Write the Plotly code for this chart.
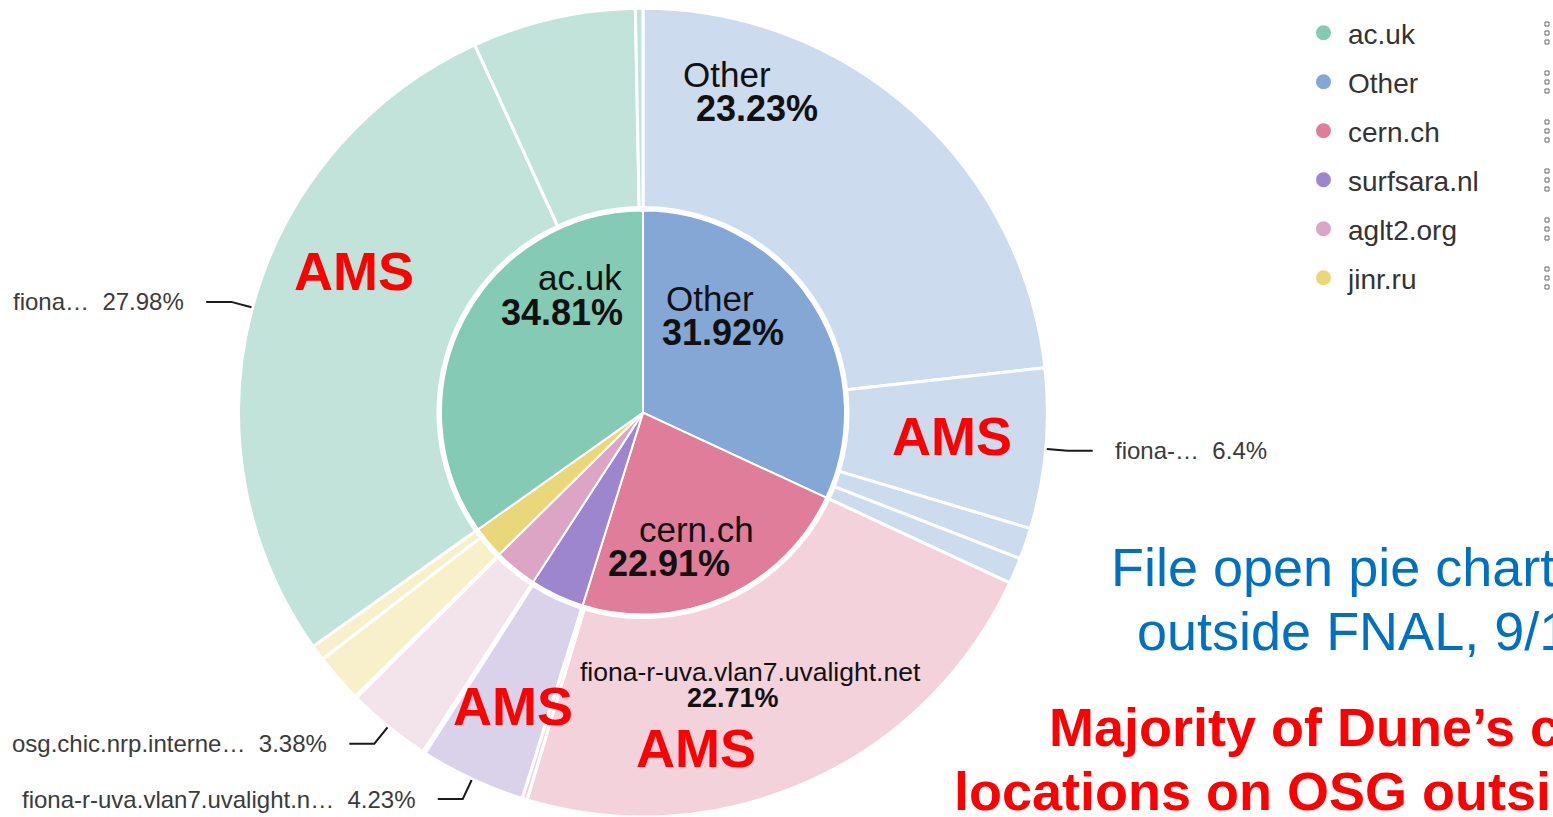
import math
import plotly.graph_objects as go

# ---------------- data ----------------
inner_labels = ["Other", "cern.ch", "surfsara.nl", "aglt2.org", "jinr.ru", "ac.uk"]
inner_values = [31.92, 22.91, 4.33, 3.45, 2.58, 34.81]
inner_colors = ["#84A7D5", "#E07D9A", "#9E86CE", "#DCA5C6", "#EAD779", "#85CAB4"]
outer_colors_by_parent = {"Other": "#CCDBEE", "cern.ch": "#F4D2DC", "surfsara.nl": "#DAD2EB",
                          "aglt2.org": "#F3E3EB", "jinr.ru": "#F8F0CB", "ac.uk": "#C2E3D9"}

outer_parents = ["Other", "Other", "Other", "Other",
                 "cern.ch", "cern.ch",
                 "surfsara.nl", "surfsara.nl",
                 "aglt2.org", "aglt2.org",
                 "jinr.ru", "jinr.ru",
                 "ac.uk", "ac.uk", "ac.uk"]
outer_children = ["Other", "fiona-r-uva.vlan7.uvalight.net", "site 3", "site 4",
                  "fiona-r-uva.vlan7.uvalight.net", "other",
                  "fiona-r-uva.vlan7.uvalight.net", "other",
                  "osg.chic.nrp.internet2.edu", "other",
                  "site 1", "site 2",
                  "fiona-r-uva.vlan7.uvalight.net", "site 2", "site 3"]
outer_values = [23.23, 6.4, 1.25, 1.04,
                22.71, 0.20,
                4.23, 0.10,
                3.38, 0.07,
                1.95, 0.63,
                27.98, 6.53, 0.30]

legend_order = ["ac.uk", "Other", "cern.ch", "surfsara.nl", "aglt2.org", "jinr.ru"]

# outside labels (index in outer ring -> shown, truncated label)
outside_label_idx = [12, 1, 8, 6]
outside_label_txt = ["fiona…", "fiona-…", "osg.chic.nrp.interne…", "fiona-r-uva.vlan7.uvalight.n…"]

# ---------------- geometry ----------------
W, H = 1553, 817
CX = 643.0
DOM_Y = 0.99
R_OUT = min(810, H * DOM_Y) / 2
CY = H - H * DOM_Y / 2
R_IN = 202.0


def px2paper(x, y):
    return x / W, 1 - y / H


outer_labels = [f"{p} / {c}" for p, c in zip(outer_parents, outer_children)]
outer_colors = [outer_colors_by_parent[p] for p in outer_parents]

fig = go.Figure()

fig.add_trace(go.Pie(
    labels=outer_labels, values=outer_values, sort=False, direction="clockwise", rotation=0,
    hole=(R_IN + 3) / R_OUT, textinfo="none", showlegend=False,
    marker=dict(colors=outer_colors, line=dict(color="white", width=3)),
    domain=dict(x=[(CX - 405) / W, (CX + 405) / W], y=[0, DOM_Y]),
))

iy0 = (H - CY - R_IN) / H
iy1 = (H - CY + R_IN) / H
fig.add_trace(go.Pie(
    labels=inner_labels, values=inner_values, sort=False, direction="clockwise", rotation=0,
    textinfo="none", showlegend=False,
    marker=dict(colors=inner_colors, line=dict(color="white", width=2)),
    domain=dict(x=[(CX - R_IN) / W, (CX + R_IN) / W], y=[iy0, iy1]),
))

# legend entries (circle dots)
for i, name in enumerate(legend_order):
    col = inner_colors[inner_labels.index(name)]
    fig.add_trace(go.Scatter(x=[None], y=[None], mode="markers", name=name, legendgroup=name,
                             marker=dict(symbol="circle", size=15, color=col)))

shapes = []
annotations = []

FONT = "Liberation Sans, Arial, Helvetica, sans-serif"

# outside labels with leader lines, positions derived from the slice angles
total = sum(outer_values)
starts = []
cum = 0.0
for v in outer_values:
    starts.append(cum)
    cum += v
for idx, txt in zip(outside_label_idx, outside_label_txt):
    a0 = starts[idx] / total * 2 * math.pi
    a1 = (starts[idx] + outer_values[idx]) / total * 2 * math.pi
    mid = (a0 + a1) / 2
    p0 = (CX + (R_OUT + 1) * math.sin(mid), CY - (R_OUT + 1) * math.cos(mid))
    p1 = (CX + (R_OUT + 22) * math.sin(mid), CY - (R_OUT + 22) * math.cos(mid))
    side = 1 if math.sin(mid) > 0 else -1
    p2 = (p1[0] + side * 25, p1[1])
    pts = [px2paper(*p) for p in (p0, p1, p2)]
    path = "M {} {} L {} {} L {} {}".format(pts[0][0], pts[0][1], pts[1][0], pts[1][1], pts[2][0], pts[2][1])
    shapes.append(dict(type="path", path=path, xref="paper", yref="paper",
                       line=dict(color="#1a1a1a", width=2)))
    tx, ty = px2paper(p2[0] + side * 20, p2[1])
    annotations.append(dict(x=tx, y=ty, xref="paper", yref="paper", showarrow=False,
                            xanchor="left" if side > 0 else "right", yanchor="middle",
                            text=f"{txt}  {outer_values[idx]:g}%",
                            font=dict(family=FONT, size=24, color="#3b3b3b")))


def ann(x, y, text, size, color="#111111", bold=False, xanchor="center"):
    xp, yp = px2paper(x, y)
    annotations.append(dict(x=xp, y=yp, xref="paper", yref="paper", showarrow=False,
                            xanchor=xanchor, yanchor="middle",
                            text=f"<b>{text}</b>" if bold else text,
                            font=dict(family=FONT, size=size, color=color)))


# inside labels
ann(580, 277, inner_labels[5], 35)
ann(562, 312, f"{inner_values[5]:.2f}%", 36, bold=True)
ann(710, 298, inner_labels[0], 35)
ann(723, 332, f"{inner_values[0]:.2f}%", 36, bold=True)
ann(696, 529, inner_labels[1], 35)
ann(669, 563, f"{inner_values[1]:.2f}%", 36, bold=True)
ann(727, 74, outer_children[0], 35)
ann(757, 109, f"{outer_values[0]:.2f}%", 36, bold=True)
ann(750, 672, outer_children[4], 26.5)
ann(733, 698, f"{outer_values[4]:.2f}%", 27, bold=True)

# red AMS callouts
for (x, y) in [(354, 271), (952, 436), (513, 706), (696, 748)]:
    ann(x, y, "AMS", 54, color="#FF0000", bold=True)

# slide texts on the right
ann(1109, 567, "File open pie chart", 54, color="#0070C0", xanchor="left")
ann(1135, 631, "outside FNAL, 9/1", 54, color="#0070C0", xanchor="left")
ann(1047, 727, "Majority of Dune’s c", 54, color="#FF0000", bold=True, xanchor="left")
ann(952, 791, "locations on OSG outsid", 54, color="#FF0000", bold=True, xanchor="left")

# legend drag handles
for i in range(len(legend_order)):
    yc = 33 + 49 * i
    for dy in (-9, 0, 9):
        x0, y0 = px2paper(1545, yc + dy - 2)
        x1, y1 = px2paper(1549, yc + dy + 2)
        shapes.append(dict(type="rect", xref="paper", yref="paper", x0=x0, x1=x1, y0=y0, y1=y1,
                           line=dict(color="#666666", width=1), fillcolor="rgba(0,0,0,0)"))

fig.update_layout(
    width=W, height=H, margin=dict(l=0, r=0, t=0, b=0),
    paper_bgcolor="white", plot_bgcolor="white",
    xaxis=dict(visible=False), yaxis=dict(visible=False),
    showlegend=True,
    legend=dict(x=1299 / W, y=1 - 8 / H, xanchor="left", yanchor="top",
                font=dict(family=FONT, size=28, color="#333333"),
                tracegroupgap=9.6, itemwidth=39, bgcolor="rgba(0,0,0,0)", itemsizing="trace"),
    shapes=shapes, annotations=annotations,
)

fig.write_html("out.html", config={"displayModeBar": False},
               post_script="document.body.style.margin='0';document.body.style.overflow='hidden';")
